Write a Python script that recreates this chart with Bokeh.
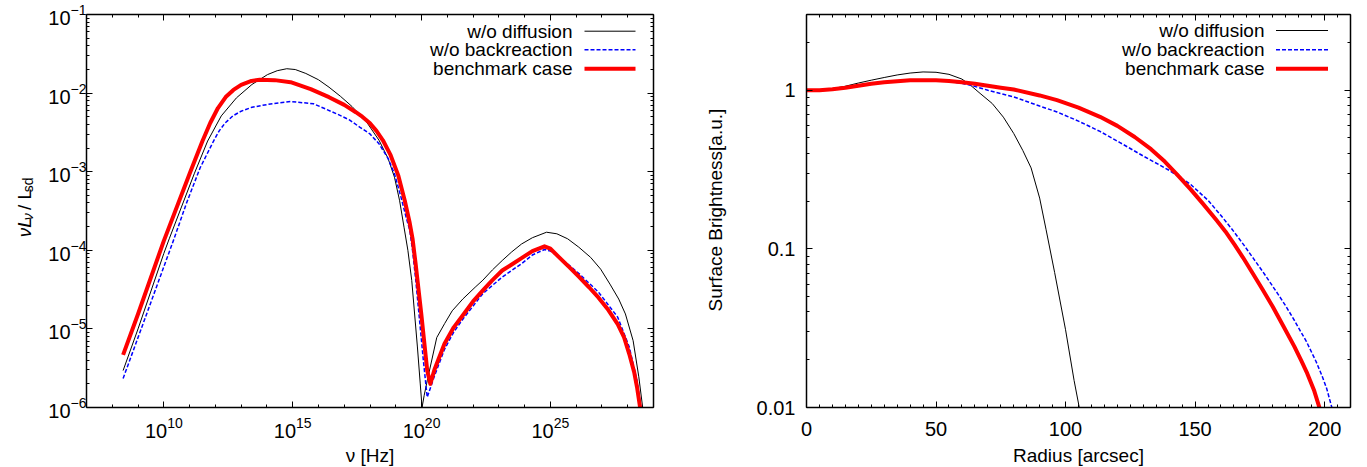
import math
from bokeh.plotting import figure
from bokeh.layouts import row
from bokeh.models import (Range1d, LogAxis, LinearAxis, FixedTicker,
                          CustomJSTickFormatter, Label, Arrow)
from bokeh.embed import file_html
from bokeh.resources import INLINE

# ---------------- data: left panel (log10 nu [Hz], log10 nuL_nu / L_sd) ----------------
nodiff_lognu = [8.42, 9.0, 10.0, 10.21, 11.18, 11.7, 12.23, 12.82, 13.42, 14.02, 14.4, 14.77,
                15.1, 15.51, 16.0, 16.41, 16.85, 17.3, 17.85, 18.35, 18.7, 18.95, 19.15, 19.32,
                19.47, 19.62, 19.84, 19.95, 20.02, 20.1, 20.22, 20.59, 20.9, 21.19, 21.6, 22.08,
                22.38, 22.75, 23.13, 23.5, 23.88, 24.3, 24.85, 25.25, 25.67, 26.1, 26.56, 26.95,
                27.31, 27.65, 27.91, 28.21, 28.43, 28.58, 28.62]
nodiff_logl = [-5.53, -5.0, -4.04, -3.854, -3.027, -2.61, -2.29, -2.06, -1.89, -1.765, -1.715,
               -1.69, -1.70, -1.75, -1.83, -1.925, -2.04, -2.17, -2.36, -2.60, -2.83, -3.07,
               -3.37, -3.706, -4.0, -4.384, -5.23, -5.7, -6.0, -5.85, -5.66, -5.11, -4.93, -4.77,
               -4.62, -4.47, -4.38, -4.25, -4.13, -4.02, -3.92, -3.84, -3.77, -3.79, -3.854,
               -3.96, -4.09, -4.24, -4.43, -4.62, -4.81, -5.15, -5.61, -6.0, -6.2]

noback_lognu = [8.42, 9.0, 10.0, 10.4, 10.88, 11.41, 11.93, 12.15, 12.38, 12.68, 13.0, 13.42,
                14.02, 14.92, 15.81, 16.71, 17.2, 17.6, 18.0, 18.35, 18.7, 18.95, 19.2, 19.4,
                19.54, 19.65, 19.77, 19.92, 20.07, 20.22, 20.5, 20.89, 21.25, 21.64, 22.38,
                23.13, 23.88, 24.3, 24.77, 25.0, 25.37, 26.12, 26.86, 27.61, 28.06, 28.36,
                28.51, 28.55]
noback_logl = [-5.63, -5.11, -4.21, -3.85, -3.40, -2.95, -2.61, -2.48, -2.38, -2.29, -2.23,
               -2.18, -2.145, -2.107, -2.136, -2.264, -2.34, -2.433, -2.52, -2.645, -2.83,
               -3.027, -3.32, -3.578, -3.74, -4.0, -4.36, -4.88, -5.40, -5.87, -5.6, -5.26,
               -5.04, -4.86, -4.55, -4.34, -4.17, -4.06, -3.99, -4.01, -4.09, -4.30, -4.53,
               -4.85, -5.23, -5.66, -6.0, -6.2]

bench_lognu = [8.42, 9.0, 10.0, 11.03, 11.5, 11.8, 12.1, 12.4, 12.7, 13.0, 13.4, 13.72, 14.3,
               14.92, 15.7, 16.41, 17.0, 17.45, 17.7, 18.0, 18.25, 18.5, 18.8, 19.1, 19.35,
               19.54, 19.65, 19.77, 19.99, 20.22, 20.34, 20.5, 20.89, 21.25, 21.64, 22.0, 22.38,
               22.75, 23.13, 23.5, 23.88, 24.3, 24.77, 25.0, 25.37, 25.75, 26.12, 26.5, 26.86,
               27.25, 27.61, 27.85, 28.06, 28.25, 28.36, 28.48, 28.52]
bench_logl = [-5.33, -4.81, -3.88, -3.0, -2.61, -2.38, -2.19, -2.05, -1.96, -1.895, -1.845,
              -1.83, -1.835, -1.861, -1.95, -2.052, -2.15, -2.243, -2.30, -2.385, -2.48, -2.60,
              -2.79, -3.05, -3.37, -3.65, -3.85, -4.17, -4.81, -5.53, -5.70, -5.52, -5.19,
              -4.98, -4.81, -4.65, -4.51, -4.38, -4.257, -4.18, -4.10, -4.01, -3.95, -3.98,
              -4.10, -4.22, -4.34, -4.47, -4.60, -4.76, -4.94, -5.1, -5.32, -5.55, -5.74, -6.0,
              -6.2]

# ---------------- data: right panel (radius [arcsec], log10 surface brightness) ----------------
nodiff_r = [0, 5, 10, 15, 20, 25, 30, 35, 40, 45, 50, 55, 60, 63.3, 67, 71.7, 76, 80, 83.5,
            86.7, 90, 92.5, 95.8, 100, 103.3, 105.3, 105.6]
nodiff_logsb = [0.0, 0.002, 0.01, 0.025, 0.045, 0.063, 0.08, 0.096, 0.108, 0.115, 0.113, 0.1,
                0.07, 0.0315, -0.02, -0.084, -0.17, -0.273, -0.38, -0.49, -0.68, -0.88, -1.15,
                -1.51, -1.83, -2.0, -2.05]

noback_r = [0, 5, 10, 15, 20, 25, 30, 35, 40, 45, 50, 55, 60, 63.3, 70, 80, 90, 96.7, 105,
            113.3, 121, 130, 140, 148, 155, 160, 164.2, 168.8, 172.5, 176.7, 182, 185, 188.3,
            193, 196.7, 199, 200.8, 202.8, 203.2]
noback_logsb = [0.0, 0.0, 0.006, 0.015, 0.028, 0.04, 0.05, 0.057, 0.062, 0.063, 0.061, 0.056,
                0.043, 0.0315, 0.0, -0.042, -0.1, -0.137, -0.195, -0.26, -0.33, -0.415, -0.505,
                -0.59, -0.694, -0.79, -0.875, -0.975, -1.06, -1.157, -1.285, -1.36, -1.45,
                -1.585, -1.71, -1.80, -1.88, -2.0, -2.05]

bench_r = [0, 5, 10, 15, 20, 25, 30, 35, 40, 45, 50, 55, 60, 65, 70, 75, 80, 90, 96.7, 105,
           113.3, 120, 126.7, 133, 138.3, 143, 148.3, 153, 158.3, 161.7, 165.3, 168.5, 171.7,
           176, 180, 184, 188.3, 191, 193.3, 196, 198, 198.5]
bench_logsb = [0.0, 0.0, 0.006, 0.015, 0.028, 0.04, 0.05, 0.057, 0.062, 0.063, 0.062, 0.058,
               0.05, 0.04, 0.028, 0.016, 0.004, -0.033, -0.063, -0.11, -0.168, -0.225, -0.295,
               -0.372, -0.45, -0.53, -0.625, -0.715, -0.82, -0.89, -0.975, -1.055, -1.14,
               -1.255, -1.365, -1.485, -1.615, -1.705, -1.785, -1.895, -2.0, -2.05]

series_names = ["w/o diffusion", "w/o backreaction", "benchmark case"]
left_xticks = [1e10, 1e15, 1e20, 1e25]
right_xticks = [0, 50, 100, 150, 200]
right_yticks = [0.01, 0.1, 1]

# ---------------- styling / layout ----------------
FONT = "Liberation Sans"
TICK_FS = "20px"
FS = "19px"
SUB = "14px"
STYLES = [dict(line_color="black", line_width=1),
          dict(line_color="#0000ff", line_width=1.5, line_dash="4 2"),
          dict(line_color="#ff0000", line_width=4, line_join="round")]

H = 467
TOP = 14
FH = 393                      # frame height
BOTTOM = H - TOP - FH
LAB1_W, L_LEFT, LFW, L_RIGHT = 44, 42, 567, 40
LAB2_W, R_LEFT, RFW, R_RIGHT = 52, 61, 544, 17

LX0, LX1, LY0, LY1 = 7.0, 29.0, -6.0, -1.0
RX0, RX1, RY0, RY1 = 0.0, 210.0, -2.0, math.log10(3.0)


def lx(off): return 10 ** (LX0 + off / LFW * (LX1 - LX0))
def ly(off): return 10 ** (LY1 - off / FH * (LY1 - LY0))
def rx(off): return RX0 + off / RFW * (RX1 - RX0)
def ry(off): return 10 ** (RY1 - off / FH * (RY1 - RY0))


def style_axis(ax, labels=True, standoff=5):
    ax.major_tick_in = 6
    ax.major_tick_out = 0
    ax.minor_tick_in = 3
    ax.minor_tick_out = 0
    ax.axis_line_color = "black"
    ax.axis_line_width = 1.5
    ax.major_tick_line_color = "black"
    ax.minor_tick_line_color = "black"
    ax.major_label_text_font = FONT
    ax.major_label_text_font_size = TICK_FS
    ax.major_label_text_color = "black"
    ax.major_label_standoff = standoff
    ax.axis_label_text_font = FONT
    ax.axis_label_text_font_size = FS
    ax.axis_label_text_font_style = "normal"
    ax.axis_label_text_color = "black"
    if not labels:
        ax.major_label_text_font_size = "0px"
        ax.major_label_standoff = 0
        ax.formatter = CustomJSTickFormatter(code="return '';")


def make_fig(fw, left, right, xtype, xr, yr):
    p = figure(frame_width=fw, frame_height=FH, x_axis_type=xtype, y_axis_type="log",
               x_range=Range1d(*xr), y_range=Range1d(*yr),
               output_backend="svg", toolbar_location=None,
               min_border_left=left, min_border_right=right,
               min_border_top=TOP, min_border_bottom=BOTTOM)
    p.grid.visible = False
    p.outline_line_color = None
    p.background_fill_color = "white"
    p.border_fill_color = "white"
    return p


def text_host(w, h):
    """Blank figure whose frame covers it entirely, used to hold axis-title texts."""
    f = figure(width=w, height=h, x_range=Range1d(0, w), y_range=Range1d(0, h),
               output_backend="svg", toolbar_location=None,
               x_axis_location=None, y_axis_location=None, min_border=0)
    f.grid.visible = False
    f.outline_line_color = None
    f.background_fill_color = "white"
    f.border_fill_color = "white"
    return f


def txt(x, y, text, size=FS, style="normal", align="left", baseline="alphabetic", angle=0.0):
    return Label(x=x, y=y, text=text, text_font=FONT, text_font_size=size,
                 text_font_style=style, text_align=align, text_baseline=baseline,
                 angle=angle, text_color="black")


# ---------------- left panel ----------------
p1 = make_fig(LFW, L_LEFT, L_RIGHT, "log", (10 ** LX0, 10 ** LX1), (10 ** LY0, 10 ** LY1))
lx_t = FixedTicker(ticks=left_xticks, minor_ticks=[10.0 ** k for k in range(7, 30)])
ly_t = FixedTicker(ticks=[10.0 ** k for k in range(-6, 0)],
                   minor_ticks=[m * 10.0 ** k for k in range(-6, -1) for m in range(2, 10)])
p1.xaxis.ticker = lx_t
p1.yaxis.ticker = ly_t
style_axis(p1.xaxis[0], True, 9)
style_axis(p1.yaxis[0], True, 0)
p1.xaxis.axis_label = "\u03bd [Hz]"
p1.xaxis.axis_label_standoff = 4
top1 = LogAxis(ticker=lx_t)
right1 = LogAxis(ticker=ly_t)
style_axis(top1, False)
style_axis(right1, False)
p1.add_layout(top1, "above")
p1.add_layout(right1, "right")

left_series = [(nodiff_lognu, nodiff_logl), (noback_lognu, noback_logl), (bench_lognu, bench_logl)]
for (xs, ys), st in zip(left_series, STYLES):
    p1.line([10 ** v for v in xs], [10 ** v for v in ys], **st)

for i, (name, st) in enumerate(zip(series_names, STYLES)):
    yoff = [16.7, 35.3, 54.3][i]
    p1.add_layout(txt(lx(486), ly(yoff), name, align="right", baseline="middle"))
    p1.add_layout(Arrow(x_start=lx(498), y_start=ly(yoff), x_end=lx(549), y_end=ly(yoff),
                        end=None, **{k: v for k, v in st.items() if k != "line_join"}))

# ---------------- right panel ----------------
p2 = make_fig(RFW, R_LEFT, R_RIGHT, "linear", (RX0, RX1), (10 ** RY0, 10 ** RY1))
rx_t = FixedTicker(ticks=right_xticks, minor_ticks=list(range(0, 211, 5)))
ry_t = FixedTicker(ticks=right_yticks,
                   minor_ticks=[m * 0.01 for m in range(2, 10)] + [m * 0.1 for m in range(2, 10)] + [2, 3])
p2.xaxis.ticker = rx_t
p2.yaxis.ticker = ry_t
p2.yaxis.formatter = CustomJSTickFormatter(code="return String(Number(tick.toPrecision(2)));")
style_axis(p2.xaxis[0], True, 14)
style_axis(p2.yaxis[0], True, 11)
p2.xaxis.axis_label = "Radius [arcsec]"
p2.xaxis.axis_label_standoff = 6
top2 = LinearAxis(ticker=rx_t)
right2 = LogAxis(ticker=ry_t)
style_axis(top2, False)
style_axis(right2, False)
p2.add_layout(top2, "above")
p2.add_layout(right2, "right")

right_series = [(nodiff_r, nodiff_logsb), (noback_r, noback_logsb), (bench_r, bench_logsb)]
for (xs, ys), st in zip(right_series, STYLES):
    p2.line(xs, [10 ** v for v in ys], **st)

for i, (name, st) in enumerate(zip(series_names, STYLES)):
    yoff = [16.0, 35.3, 54.3][i]
    p2.add_layout(txt(rx(458), ry(yoff), name, align="right", baseline="middle"))
    p2.add_layout(Arrow(x_start=rx(469.5), y_start=ry(yoff), x_end=rx(521.5), y_end=ry(yoff),
                        end=None, **{k: v for k, v in st.items() if k != "line_join"}))

# ---------------- rotated y-axis titles (hosted in blank strips) ----------------
ROT = math.pi / 2
lab1 = text_host(LAB1_W, H)          # page x 0..44
for t, size, style, xb, ytop in [("\u03bdL", FS, "italic", 23.5, 265.3),
                                 ("\u03bd", SUB, "italic", 27.5, 245.2),
                                 ("/ L", FS, "normal", 23.5, 232.9),
                                 ("sd", SUB, "normal", 27.5, 211.8)]:
    lab1.add_layout(txt(xb, H - ytop, t, size=size, style=style, angle=ROT))

lab2 = text_host(LAB2_W, H)          # page x 693..745
lab2.add_layout(txt(22, H - 233, "Surface Brightness[a.u.]", align="center", angle=ROT))

layout = row(lab1, p1, lab2, p2)
open("out.html", "w").write(file_html(layout, INLINE))
